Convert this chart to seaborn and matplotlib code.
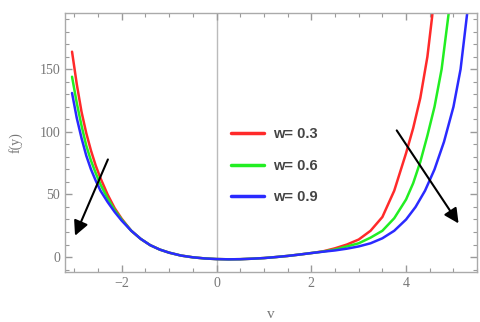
import matplotlib
matplotlib.use("Agg")
import matplotlib.pyplot as plt
import seaborn as sns
import pandas as pd
from matplotlib.ticker import MultipleLocator

# left branch (x < -1.9), shared middle, right branch per series
x_left = [-3.05, -2.95, -2.85, -2.75, -2.65, -2.55, -2.45, -2.3, -2.15, -2.0]
left_03 = [164, 138, 116, 99, 85, 73, 63, 50, 39, 30.5]
left_06 = [144, 123, 105, 89, 77, 67, 58, 47, 37.5, 29.8]
left_09 = [131, 111, 95, 81, 70, 61, 53, 44, 36, 29]

x_mid = [-1.8, -1.6, -1.4, -1.2, -1.0, -0.75, -0.5, -0.25, 0.0, 0.25, 0.5, 0.75,
         1.0, 1.25, 1.5, 1.75, 2.0]
mid = [21, 14.5, 9.5, 6, 3.5, 1.2, -0.2, -1.1, -1.6, -1.8, -1.7, -1.3,
       -0.8, 0, 0.9, 2, 3.2]

x_right_03 = [2.25, 2.5, 2.75, 3.0, 3.25, 3.5, 3.75, 4.0, 4.15, 4.3, 4.45, 4.55, 4.65]
right_03 = [4.6, 7, 10, 14, 21, 32, 53, 83, 103, 127, 160, 192, 235]
x_right_06 = [2.25, 2.5, 2.75, 3.0, 3.25, 3.5, 3.75, 4.0, 4.15, 4.3, 4.45, 4.6, 4.75, 4.9, 5.0]
right_06 = [4.4, 6, 8.5, 11, 15.5, 21, 31, 46, 59, 76, 97, 120, 150, 195, 230]
x_right_09 = [2.25, 2.5, 2.75, 3.0, 3.25, 3.5, 3.75, 4.0, 4.2, 4.4, 4.6, 4.8, 5.0, 5.15, 5.3, 5.45]
right_09 = [4.3, 5.3, 6.7, 8.5, 11, 15, 21, 30, 40, 53, 70, 92, 120, 150, 198, 250]

labels = ["w= 0.3", "w= 0.6", "w= 0.9"]
colors = ["#ff2a2a", "#22ee22", "#2a2aff"]

rows = []
series = [(left_03, x_right_03, right_03), (left_06, x_right_06, right_06),
          (left_09, x_right_09, right_09)]
for lab, (lft, xr, rgt) in zip(labels, series):
    xs = x_left + x_mid + xr
    ys = lft + mid + rgt
    for xv, yv in zip(xs, ys):
        rows.append({"v": xv, "f": yv, "w": lab})
df = pd.DataFrame(rows)

sns.set_style("ticks", {"xtick.direction": "in", "ytick.direction": "in"})
fig = plt.figure(figsize=(4.81, 3.22), dpi=100)
ax = fig.add_axes([0.135, 0.155, 0.857, 0.805])

ax.axvline(0, color="#bbbbbb", lw=1, zorder=0)
sns.lineplot(data=df, x="v", y="f", hue="w", palette=colors, ax=ax, lw=1.8,
             sort=True, estimator=None)

ax.set_xlim(-3.2, 5.5)
ax.set_ylim(-12, 195)
ax.set_xticks([-2, 0, 2, 4])
ax.set_yticks([0, 50, 100, 150])
ax.xaxis.set_minor_locator(MultipleLocator(0.5))
ax.yaxis.set_minor_locator(MultipleLocator(10))
ax.tick_params(which="both", direction="in", top=True, right=True, bottom=True, left=True,
               color="#9a9a9a", labelcolor="#777777", labelsize=10)
ax.tick_params(which="major", length=5, width=1.0)
ax.tick_params(which="minor", length=2.8, width=0.8)
ax.set_xticklabels(["\u22122", "0", "2", "4"])
for lbl in ax.get_xticklabels() + ax.get_yticklabels():
    lbl.set_family("Liberation Serif")
for s in ax.spines.values():
    s.set_visible(True)
    s.set_color("#aaaaaa")
    s.set_linewidth(1)

ax.set_xlabel("v", family="Liberation Serif", color="#777777", fontsize=11, labelpad=13)
ax.set_ylabel("f(y)", family="Liberation Serif", color="#777777", fontsize=10, labelpad=12)

ax.annotate("", xy=(-3.01, 15), xytext=(-2.27, 80),
            arrowprops=dict(arrowstyle="-|>", color="black", lw=1.5, mutation_scale=22))
ax.annotate("", xy=(5.14, 25), xytext=(3.77, 103),
            arrowprops=dict(arrowstyle="-|>", color="black", lw=1.5, mutation_scale=22))

leg = ax.legend(loc="center left", bbox_to_anchor=(0.37, 0.41), frameon=False,
                handlelength=2.3, handletextpad=0.6, labelspacing=1.2,
                prop={"family": "Liberation Sans", "weight": "bold", "size": 10.5})
for t in leg.get_texts():
    t.set_color("#444444")
for h in leg.get_lines():
    h.set_linewidth(2.5)

fig.savefig("out.png", dpi=100)
